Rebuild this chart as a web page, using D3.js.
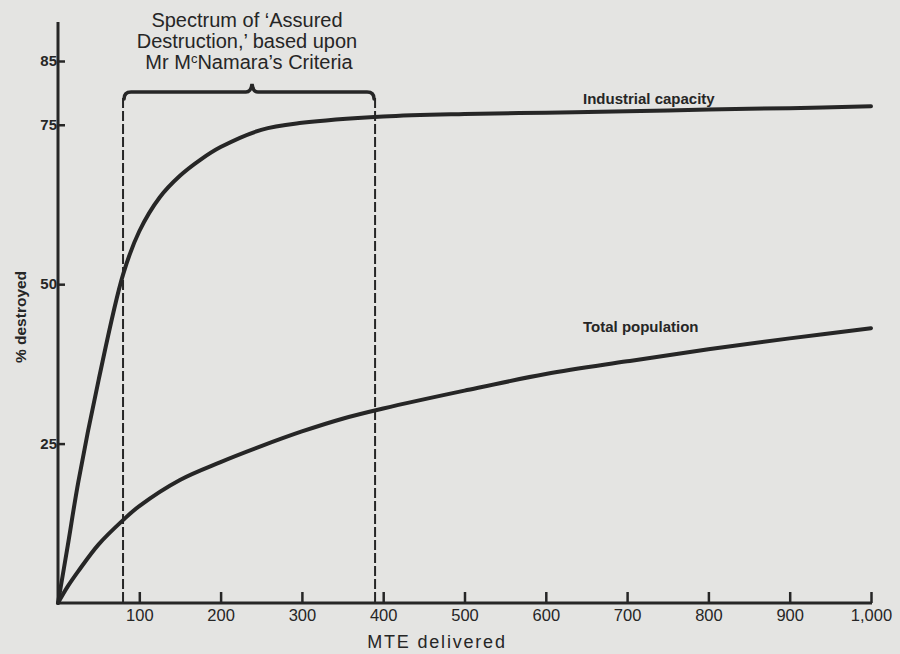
<!DOCTYPE html>
<html>
<head>
<meta charset="utf-8">
<script src="https://cdn.jsdelivr.net/npm/d3@7"></script>
<style>
  html, body { margin: 0; padding: 0; background: #e4e4e2; }
  svg { display: block; }
  text { fill: #262626; font-family: "Liberation Sans", Arial, sans-serif; }
</style>
</head>
<body>
<svg id="chart" width="900" height="654"></svg>
<script>
// ---- data ----
const industrialX = [0, 12, 25, 50, 80, 100, 125, 150, 175, 200, 250, 300, 400, 500, 600, 700, 800, 900, 1000];
const industrialY = [0, 9, 19, 35, 51.5, 58.3, 63.6, 67.0, 69.5, 71.5, 74.2, 75.3, 76.3, 76.7, 76.9, 77.1, 77.4, 77.6, 77.9];
const populationX = [0, 12, 25, 50, 80, 100, 150, 200, 250, 300, 350, 400, 500, 600, 700, 800, 900, 1000];
const populationY = [0, 2.6, 5, 9.2, 13, 15.2, 19.3, 22.1, 24.6, 26.9, 28.9, 30.5, 33.3, 35.9, 37.9, 39.8, 41.5, 43.1];
const xTicks = [100, 200, 300, 400, 500, 600, 700, 800, 900, 1000];
const xTickLabels = ["100", "200", "300", "400", "500", "600", "700", "800", "900", "1,000"];
const yTicks = [25, 50, 75, 85];
const spectrumRange = [80, 390];
const seriesNames = ["Industrial capacity", "Total population"];

// ---- layout ----
const svg = d3.select("#chart");
const ink = "#262626";
const x = d3.scaleLinear().domain([0, 1000]).range([58, 871]);
const y = d3.scaleLinear().domain([0, 85]).range([603, 61]);

// y axis
const yAxis = d3.axisLeft(y).tickValues(yTicks).tickSize(-7).tickPadding(3).tickFormat(d3.format("d"));
const gy = svg.append("g").attr("transform", `translate(${x(0)},0)`).call(yAxis);
gy.select(".domain").remove();
gy.selectAll(".tick line").attr("stroke", ink).attr("stroke-width", 2.5);
gy.selectAll(".tick text").attr("x", -1).style("font-size", "15px").style("font-weight", "bold").attr("fill", ink);
svg.append("line").attr("x1", x(0)).attr("x2", x(0)).attr("y1", y(0) + 1).attr("y2", 22)
  .attr("stroke", ink).attr("stroke-width", 3);

// x axis
const xAxis = d3.axisBottom(x).tickValues(xTicks).tickSize(-11).tickPadding(4)
  .tickFormat((d, i) => xTickLabels[i]);
const gx = svg.append("g").attr("transform", `translate(0,${y(0)})`).call(xAxis);
gx.select(".domain").remove();
gx.selectAll(".tick line").attr("stroke", ink).attr("stroke-width", 2.5);
gx.selectAll(".tick text").attr("dy", "0.85em").style("font-size", "16.5px").attr("fill", ink);
svg.append("line").attr("x1", x(0) - 1).attr("x2", x(1000) + 1).attr("y1", y(0)).attr("y2", y(0))
  .attr("stroke", ink).attr("stroke-width", 3);

// axis titles
svg.append("text").attr("transform", `translate(26,317) rotate(-90)`)
  .attr("text-anchor", "middle").style("font-size", "15.5px").style("font-weight", "bold")
  .text("% destroyed");
svg.append("text").attr("x", 437).attr("y", 648).attr("text-anchor", "middle")
  .style("font-size", "18px").style("letter-spacing", "1.8px").text("MTE delivered");

// dashed spectrum lines
const braceY = 92;
spectrumRange.forEach(v => {
  svg.append("line").attr("x1", x(v)).attr("x2", x(v)).attr("y1", braceY + 6).attr("y2", y(0))
    .attr("stroke", ink).attr("stroke-width", 2).attr("stroke-dasharray", "10,3");
});

// brace
const bx0 = x(spectrumRange[0]), bx1 = x(spectrumRange[1]);
const bm = 252;
const bracePath = d3.path();
bracePath.moveTo(bx0 + 1, braceY + 7);
bracePath.quadraticCurveTo(bx0 + 1, braceY, bx0 + 8, braceY);
bracePath.lineTo(bm - 6, braceY);
bracePath.quadraticCurveTo(bm - 1, braceY, bm, braceY - 8);
bracePath.quadraticCurveTo(bm + 1, braceY, bm + 6, braceY);
bracePath.lineTo(bx1 - 8, braceY);
bracePath.quadraticCurveTo(bx1 - 1, braceY, bx1 - 1, braceY + 7);
svg.append("path").attr("d", bracePath.toString()).attr("fill", "none")
  .attr("stroke", ink).attr("stroke-width", 3.5).attr("stroke-linecap", "round");

// annotation text
const ann = svg.append("text").attr("text-anchor", "middle").style("font-size", "20px");
ann.append("tspan").attr("x", 247).attr("y", 27).text("Spectrum of ‘Assured");
ann.append("tspan").attr("x", 247).attr("y", 48).text("Destruction,’ based upon");
const l3 = ann.append("tspan").attr("x", 249).attr("y", 69);
l3.append("tspan").text("Mr M");
l3.append("tspan").attr("dy", -6).style("font-size", "13px").text("c");
l3.append("tspan").attr("dy", 6).text("Namara’s Criteria");

// curves
const line = d3.line().x(d => x(d[0])).y(d => y(d[1])).curve(d3.curveCatmullRom.alpha(0.5));
const industrial = d3.zip(industrialX, industrialY);
const population = d3.zip(populationX, populationY);
[industrial, population].forEach(s => {
  svg.append("path").datum(s).attr("d", line).attr("fill", "none")
    .attr("stroke", ink).attr("stroke-width", 4).attr("stroke-linecap", "round");
});

// series labels
svg.append("text").attr("x", 583).attr("y", 104).style("font-size", "15px").style("font-weight", "bold")
  .text(seriesNames[0]);
svg.append("text").attr("x", 583).attr("y", 332).style("font-size", "15px").style("font-weight", "bold")
  .text(seriesNames[1]);
</script>
</body>
</html>
